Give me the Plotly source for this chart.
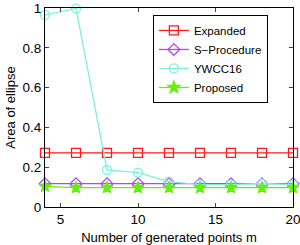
import plotly.graph_objects as go

m = [4, 6, 8, 10, 12, 14, 16, 18, 20]
expanded = [0.272, 0.272, 0.272, 0.272, 0.272, 0.272, 0.272, 0.272, 0.272]
s_procedure = [0.117, 0.117, 0.117, 0.117, 0.117, 0.117, 0.117, 0.117, 0.117]
ywcc16 = [0.965, 0.998, 0.186, 0.173, 0.128, 0.112, 0.112, 0.118, 0.112]
proposed = [0.104, 0.097, 0.097, 0.097, 0.097, 0.097, 0.097, 0.097, 0.097]

series = [
    ("Expanded", expanded, "#FF1A1A", "square-open"),
    ("S\u2212Procedure", s_procedure, "#B845F5", "diamond-open"),
    ("YWCC16", ywcc16, "#7FF0DF", "circle-open"),
    ("Proposed", proposed, "#66EE11", "star"),
]

fig = go.Figure()
for name, vals, col, sym in series:
    fig.add_trace(go.Scatter(
        x=m, y=vals, name=name, mode="lines+markers",
        line=dict(color=col, width=1.3),
        marker=dict(symbol=sym, size=9, color=col, line=dict(color=col, width=1.3)),
        cliponaxis=False,
    ))

font = "Liberation Sans, Arial, sans-serif"
fig.update_layout(
    width=300, height=245,
    margin=dict(l=45, r=7, t=8, b=37.5),
    paper_bgcolor="white", plot_bgcolor="white",
    font=dict(family=font, size=13, color="black"),
    showlegend=True,
    legend=dict(
        x=0.435, y=0.965, xanchor="left", yanchor="top",
        bgcolor="white", bordercolor="black", borderwidth=1,
        font=dict(size=11.5), tracegroupgap=0,
    ),
    xaxis=dict(
        range=[4, 20], tick0=0, dtick=5, ticks="inside", ticklen=4,
        showline=True, linecolor="black", linewidth=1, mirror="ticks",
        showgrid=False, zeroline=False, automargin=False,
        ticklabeloverflow="allow",
        title=dict(text="Number of generated points m", standoff=9, font=dict(size=13)),
        tickfont=dict(size=13.5),
    ),
    yaxis=dict(
        range=[0, 1], tick0=0, dtick=0.2, ticks="inside", ticklen=4,
        showline=True, linecolor="black", linewidth=1, mirror="ticks",
        showgrid=False, zeroline=False, automargin=False,
        ticklabeloverflow="allow",
        title=dict(text="Area of ellipse", standoff=3, font=dict(size=13)),
        tickfont=dict(size=13.5),
    ),
)

fig.write_html("out.html", config={"displayModeBar": False},
               post_script="document.body.style.margin='0';")
